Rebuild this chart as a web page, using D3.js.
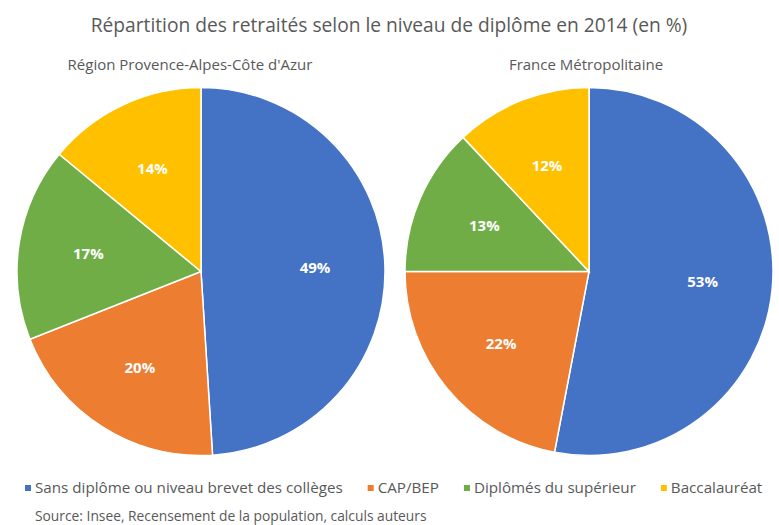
<!DOCTYPE html>
<html>
<head>
<meta charset="utf-8">
<script src="https://cdn.jsdelivr.net/npm/d3@7"></script>
<style>
	body { margin: 0; background: #fff; }
	text { font-family: "Open Sans", sans-serif; }
</style>
</head>
<body>
<div id="chart"></div>
<script>
var title = "Répartition des retraités selon le niveau de diplôme en 2014 (en %)";
var source = "Source: Insee, Recensement de la population, calculs auteurs";
var categories = ["Sans diplôme ou niveau brevet des collèges", "CAP/BEP", "Diplômés du supérieur", "Baccalauréat"];
var regions = ["Région Provence-Alpes-Côte d'Azur", "France Métropolitaine"];
var pacaValues = [49, 20, 17, 14];
var franceValues = [53, 22, 13, 12];
var colors = ["#4472C4", "#ED7D31", "#70AD47", "#FFC000"];

var width = 779;
var height = 525;

var svg = d3.select('#chart').append('svg').attr('width', width).attr('height', height);

var color = d3.scaleOrdinal().domain(categories).range(colors);

svg.append('text')
	.attr('x', 389).attr('y', 32)
	.attr('text-anchor', 'middle')
	.attr('font-size', 19.2)
	.attr('fill', '#595959')
	.text(title);

var pies = [
	{ name: regions[0], values: pacaValues, cx: 201, titleX: 190 },
	{ name: regions[1], values: franceValues, cx: 589, titleX: 586 }
];
var radius = 184;
var cy = 271.5;

var pie = d3.pie().sort(null).value(function(d) { return d.value; });
var arc = d3.arc().innerRadius(0).outerRadius(radius);
var labelArc = d3.arc().innerRadius(radius * 0.62).outerRadius(radius * 0.62);

pies.forEach(function(p) {
	var data = categories.map(function(c, i) { return { cat: c, value: p.values[i] }; });

	svg.append('text')
		.attr('x', p.titleX).attr('y', 70)
		.attr('text-anchor', 'middle')
		.attr('font-size', 15)
		.attr('fill', '#595959')
		.text(p.name);

	var g = svg.append('g').attr('transform', 'translate(' + p.cx + ',' + cy + ')');

	g.selectAll('path').data(pie(data)).enter().append('path')
		.attr('d', arc)
		.attr('fill', function(d) { return color(d.data.cat); })
		.attr('stroke', '#fff')
		.attr('stroke-width', 1.5);

	g.selectAll('text').data(pie(data)).enter().append('text')
		.attr('transform', function(d) { return 'translate(' + labelArc.centroid(d) + ')'; })
		.attr('text-anchor', 'middle')
		.attr('dy', '0.35em')
		.attr('font-size', 15)
		.attr('font-weight', 'bold')
		.attr('fill', '#fff')
		.text(function(d) { return d.data.value + '%'; });
});

//legend
var legend = svg.append('g');
var lx = 25;
categories.forEach(function(c) {
	var item = legend.append('g').attr('transform', 'translate(' + lx + ',0)');
	item.append('rect')
		.attr('x', 0).attr('y', 485)
		.attr('width', 6).attr('height', 6)
		.attr('fill', color(c));
	var t = item.append('text')
		.attr('x', 10).attr('y', 493)
		.attr('font-size', 15.2)
		.attr('fill', '#595959')
		.text(c);
	lx += 10 + t.node().getComputedTextLength() + 25;
});

svg.append('text')
	.attr('x', 35).attr('y', 521)
	.attr('font-size', 13.8)
	.attr('fill', '#595959')
	.text(source);
</script>
</body>
</html>
